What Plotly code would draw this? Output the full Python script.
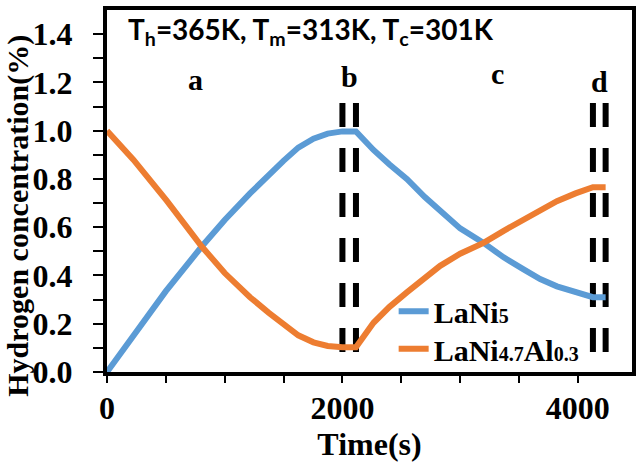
import plotly.graph_objects as go

# ---------------- data ----------------
lani5_time = [0, 250, 500, 805, 1000, 1215, 1375, 1499, 1625, 1754, 1875, 2000, 2115,
              2264, 2400, 2547, 2700, 2830, 3000, 3199, 3370, 3539, 3680, 3822, 3980, 4128, 4236]
lani5_conc = [0.0, 0.17, 0.335, 0.52, 0.63, 0.74, 0.82, 0.875, 0.93, 0.967, 0.988, 0.997, 0.997,
              0.92, 0.86, 0.80, 0.725, 0.665, 0.595, 0.535, 0.475, 0.425, 0.385, 0.355, 0.33, 0.31, 0.31]

lanial_time = [0, 224, 507, 805, 1000, 1215, 1375, 1499, 1625, 1754, 1875, 2000, 2115,
               2264, 2400, 2547, 2700, 2830, 3000, 3199, 3370, 3539, 3680, 3822, 3980, 4128, 4236]
lanial_conc = [1.0, 0.88, 0.71, 0.52, 0.41, 0.31, 0.245, 0.195, 0.152, 0.123, 0.108, 0.103, 0.103,
               0.204, 0.27, 0.33, 0.39, 0.44, 0.49, 0.535, 0.585, 0.63, 0.67, 0.708, 0.74, 0.766, 0.766]

boundary_times = [2000, 2115, 4128, 4236]
boundary_y = [1.115, 0.07]

stage_labels = ["a", "b", "c", "d"]
stage_x = [750, 2060, 3320, 4180]
stage_y = [1.21, 1.225, 1.235, 1.205]

x_tick_vals = [0, 500, 1000, 1500, 2000, 2500, 3000, 3500, 4000]
x_tick_text = ["0", "", "", "", "2000", "", "", "", "4000"]
y_tick_vals = [0.0, 0.1, 0.2, 0.3, 0.4, 0.5, 0.6, 0.7, 0.8, 0.9, 1.0, 1.1, 1.2, 1.3, 1.4]
y_tick_text = ["0.0", "", "0.2", "", "0.4", "", "0.6", "", "0.8", "", "1.0", "", "1.2", "", "1.4"]

BLUE = "#5B9BD5"
ORANGE = "#ED7D31"
SERIF = "Liberation Serif"
SUB = "<span style='font-size:20px'>{}</span>"

fig = go.Figure()

for bx in boundary_times:
    fig.add_trace(go.Scatter(
        x=[bx, bx], y=boundary_y, mode="lines",
        line=dict(color="black", width=6, dash="24px,21px"),
        showlegend=False, hoverinfo="skip"))

fig.add_trace(go.Scatter(x=lani5_time, y=lani5_conc, mode="lines",
                         name="LaNi" + SUB.format("5"), legend="legend",
                         line=dict(color=BLUE, width=6)))
fig.add_trace(go.Scatter(x=lanial_time, y=lanial_conc, mode="lines",
                         name="LaNi" + SUB.format("4.7") + "Al" + SUB.format("0.3"),
                         legend="legend2",
                         line=dict(color=ORANGE, width=6)))

fig.add_annotation(x=0.036, y=1.0, xref="paper", yref="paper",
                   xanchor="left", yanchor="top", showarrow=False,
                   text="T<sub>h</sub>=365K, T<sub>m</sub>=313K, T<sub>c</sub>=301K",
                   font=dict(family="Lato", size=28, color="black", weight="bold"))

for lab, sx, sy in zip(stage_labels, stage_x, stage_y):
    fig.add_annotation(x=sx, y=sy, text=lab, showarrow=False,
                       font=dict(family=SERIF, size=30, color="black", weight="bold"))

# y-axis title
fig.add_annotation(x=-0.17, y=0.431, xref="paper", yref="paper",
                   xanchor="center", yanchor="middle", showarrow=False,
                   textangle=-90, text="Hydrogen concentration(%)",
                   font=dict(family=SERIF, size=30, color="black", weight="bold"))

legend_font = dict(family=SERIF, size=30, color="black", weight="bold")
fig.update_layout(
    width=636, height=464,
    margin=dict(l=107, r=4, t=10, b=92, autoexpand=False),
    paper_bgcolor="white", plot_bgcolor="white",
    showlegend=True,
    legend=dict(x=0.546, y=0.168, xanchor="left", yanchor="middle",
                bgcolor="rgba(0,0,0,0)", itemwidth=30, font=legend_font),
    legend2=dict(x=0.546, y=0.064, xanchor="left", yanchor="middle",
                 bgcolor="rgba(0,0,0,0)", itemwidth=30, font=legend_font),
    xaxis=dict(range=[0, 4460], tickvals=x_tick_vals, ticktext=x_tick_text,
               showgrid=False, zeroline=False, automargin=False,
               showline=True, linecolor="black", linewidth=4, mirror=True,
               ticks="outside", ticklen=7, tickwidth=2, tickcolor="black",
               ticklabelstandoff=-2,
               tickfont=dict(family=SERIF, size=32, color="black", weight="bold"),
               title=dict(text="Time(s)", standoff=4,
                          font=dict(family=SERIF, size=32, color="black", weight="bold"))),
    yaxis=dict(range=[0, 1.5], tickvals=y_tick_vals, ticktext=y_tick_text,
               showgrid=False, zeroline=False, automargin=False,
               showline=True, linecolor="black", linewidth=4, mirror=True,
               ticks="outside", ticklen=10, tickwidth=2, tickcolor="black",
               ticklabelstandoff=14,
               tickfont=dict(family=SERIF, size=32, color="black", weight="bold")),
)

fig.write_html("out.html", config={"displayModeBar": False},
               post_script="document.body.style.margin='0px';")
